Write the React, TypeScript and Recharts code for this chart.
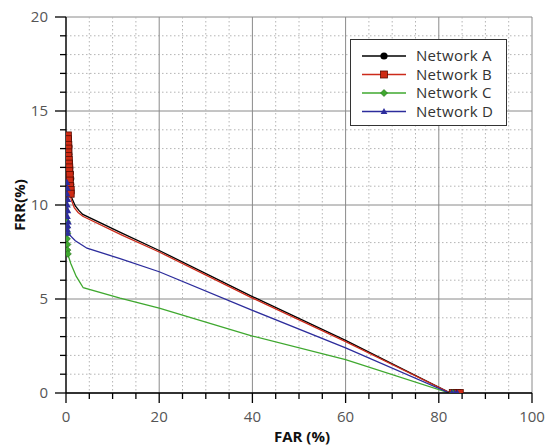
import React from 'react';
import { ComposedChart, Line, Scatter, XAxis, YAxis, CartesianGrid } from 'recharts';

// ---- data: [FAR %, FRR %] ----
const xTicks = [0, 5, 10, 15, 20, 25, 30, 35, 40, 45, 50, 55, 60, 65, 70, 75, 80, 85, 90, 95, 100];
const yTicks = [0, 1, 2, 3, 4, 5, 6, 7, 8, 9, 10, 11, 12, 13, 14, 15, 16, 17, 18, 19, 20];

const seriesNames = ['Network A', 'Network B', 'Network C', 'Network D'];

// measured operating points (drawn with markers)
const netAMarked: [number, number][] = [
  [0.5, 13.5], [0.6, 13.1], [0.6, 12.7], [0.7, 12.3], [0.8, 12.0], [0.9, 11.7], [1.0, 11.4],
  [1.0, 11.1], [1.0, 10.8], [1.0, 10.6],
];
const netACurve: [number, number][] = [
  [1.2, 10.4], [2.0, 9.95], [2.8, 9.7], [3.6, 9.5], [12, 8.5], [20, 7.58], [40, 5.13], [60, 2.8], [82.5, 0],
];
const netAEnd: [number, number][] = [[83.0, 0], [83.6, 0], [84.2, 0]];

const netBMarked: [number, number][] = [
  [0.4, 13.7], [0.4, 13.5], [0.5, 13.2], [0.5, 13.0], [0.5, 12.8], [0.5, 12.6], [0.6, 12.4],
  [0.6, 12.2], [0.7, 12.0], [0.7, 11.8], [0.8, 11.6], [0.8, 11.3], [0.9, 11.0], [1.0, 10.8], [1.0, 10.6],
];
const netBCurve: [number, number][] = [
  [1.1, 10.3], [1.8, 9.85], [2.6, 9.6], [3.6, 9.4], [12, 8.4], [20, 7.5], [40, 5.05], [60, 2.73], [82.5, 0],
];
const netBEnd: [number, number][] = [[83.0, 0], [83.5, 0], [84.0, 0], [84.5, 0]];

const netCMarked: [number, number][] = [
  [0.2, 9.1], [0.2, 8.8], [0.3, 8.5], [0.2, 8.2], [0.3, 7.9], [0.3, 7.6], [0.4, 7.4],
];
const netCCurve: [number, number][] = [
  [0.5, 7.3], [1.0, 6.9], [2.2, 6.2], [3.7, 5.6], [11.6, 5.05], [20, 4.52], [40, 3.03], [60, 1.78], [82.3, 0],
];
const netCEnd: [number, number][] = [[83.0, 0]];

const netDMarked: [number, number][] = [
  [0.2, 11.2], [0.3, 10.9], [0.2, 10.6], [0.4, 10.3], [0.3, 10.0], [0.4, 9.7], [0.3, 9.4],
  [0.5, 9.1], [0.4, 8.9], [0.3, 8.7], [0.4, 8.5],
];
const netDCurve: [number, number][] = [
  [0.6, 8.45], [2.0, 8.1], [4.5, 7.7], [11.6, 7.15], [20, 6.45], [40, 4.4], [60, 2.4], [82.3, 0],
];
const netDEnd: [number, number][] = [[82.8, 0], [83.4, 0], [84.0, 0]];

// ---- helpers ----
const toPts = (arr: [number, number][]) => arr.map(([far, frr]) => ({ far, frr }));

const COLORS = ['#000000', '#cc2a1a', '#3fa82f', '#2c2c9c'];
const FONT = "'Open Sans', 'Noto Sans', sans-serif";

const W = 552;
const H = 446;

const circleShape = (p: any) => <circle cx={p.cx} cy={p.cy} r={3.6} fill="#000" />;
const squareShape = (p: any) => (
  <rect x={p.cx - 3.5} y={p.cy - 3.5} width={7} height={7} fill="#cf2b14" stroke="#5a0c00" strokeWidth={0.8} />
);
const diamondShape = (p: any) => (
  <polygon
    points={`${p.cx},${p.cy - 3.5} ${p.cx + 3.5},${p.cy} ${p.cx},${p.cy + 3.5} ${p.cx - 3.5},${p.cy}`}
    fill="#3fa82f"
    stroke="#1e6a14"
    strokeWidth={0.6}
  />
);
const triangleShape = (p: any) => (
  <polygon
    points={`${p.cx},${p.cy - 3.6} ${p.cx + 3.4},${p.cy + 2.6} ${p.cx - 3.4},${p.cy + 2.6}`}
    fill="#2c2c9c"
  />
);
const shapes = [circleShape, squareShape, diamondShape, triangleShape];

const XTick = (props: any) => {
  const { x, y, payload } = props;
  const major = payload.value % 20 === 0;
  return (
    <g>
      <line x1={x} y1={y} x2={x} y2={y + (major ? 10 : 6)} stroke="#000" strokeWidth={1.3} />
      {major && (
        <text x={x} y={y + 29} textAnchor="middle" fontSize={15} fill="#555" fontFamily={FONT}>
          {payload.value}
        </text>
      )}
    </g>
  );
};

const YTick = (props: any) => {
  const { x, y, payload } = props;
  const major = payload.value % 5 === 0;
  return (
    <g>
      <line x1={x} y1={y} x2={x - (major ? 11 : 6)} y2={y} stroke="#000" strokeWidth={1.3} />
      {major && (
        <text x={x - 18} y={y + 5.3} textAnchor="end" fontSize={15} fill="#555" fontFamily={FONT}>
          {payload.value}
        </text>
      )}
    </g>
  );
};

const hLine = (p: any) => {
  const major = p.index % 5 === 0;
  return (
    <line
      key={p.key}
      x1={p.x1}
      y1={p.y1}
      x2={p.x2}
      y2={p.y2}
      stroke={major ? '#8a8a8a' : '#b4b4b4'}
      strokeWidth={1}
      strokeDasharray={major ? undefined : '1.5 2.5'}
    />
  );
};
const vLine = (p: any) => {
  const major = p.index % 4 === 0;
  return (
    <line
      key={p.key}
      x1={p.x1}
      y1={p.y1}
      x2={p.x2}
      y2={p.y2}
      stroke={major ? '#8a8a8a' : '#b4b4b4'}
      strokeWidth={1}
      strokeDasharray={major ? undefined : '1.5 2.5'}
    />
  );
};

const series = [
  { marked: netAMarked, curve: netACurve, end: netAEnd },
  { marked: netBMarked, curve: netBCurve, end: netBEnd },
  { marked: netCMarked, curve: netCCurve, end: netCEnd },
  { marked: netDMarked, curve: netDCurve, end: netDEnd },
];

const LegendBox = () => {
  const rowY = [16, 34.5, 53, 71.5];
  return (
    <div
      style={{
        position: 'absolute',
        left: 350,
        top: 39,
        width: 157,
        height: 87,
        boxSizing: 'border-box',
        border: '1.3px solid #333',
        background: '#fff',
      }}
    >
      <svg width={155} height={85} style={{ position: 'absolute', left: 0, top: 0 }}>
        {seriesNames.map((name, i) => (
          <g key={name}>
            <line x1={11} x2={55} y1={rowY[i]} y2={rowY[i]} stroke={COLORS[i]} strokeWidth={1.3} />
            {shapes[i]({ cx: 33, cy: rowY[i] })}
            <text x={65} y={rowY[i] + 5.3} fontSize={15} fill="#333" fontFamily={FONT} letterSpacing={0.3}>
              {name}
            </text>
          </g>
        ))}
      </svg>
    </div>
  );
};

export default function App() {
  return (
    <div style={{ position: 'absolute', left: 0, top: 0, width: W, height: H, background: '#fff' }}>
      <ComposedChart width={W} height={H} margin={{ top: 17, right: 20, bottom: 0, left: 0 }}>
        <CartesianGrid horizontal={hLine} vertical={vLine} />
        <XAxis
          type="number"
          dataKey="far"
          domain={[0, 100]}
          ticks={xTicks}
          interval={0}
          height={53}
          tickSize={0}
          tickMargin={0}
          tickLine={false}
          tick={<XTick />}
          axisLine={{ stroke: '#000', strokeWidth: 1.3 }}
          allowDataOverflow
          label={{
            value: 'FAR (%)',
            position: 'insideBottom',
            offset: 4,
            dx: 3,
            style: { fontFamily: FONT, fontSize: 15, fontWeight: 700, fill: '#111' },
          }}
        />
        <YAxis
          type="number"
          dataKey="frr"
          domain={[0, 20]}
          ticks={yTicks}
          interval={0}
          width={66}
          tickSize={0}
          tickMargin={0}
          tickLine={false}
          tick={<YTick />}
          axisLine={{ stroke: '#000', strokeWidth: 1.3 }}
          allowDataOverflow
          label={{
            value: 'FRR(%)',
            angle: -90,
            position: 'insideLeft',
            offset: 19.5,
            style: { fontFamily: FONT, fontSize: 15, fontWeight: 700, fill: '#111', textAnchor: 'middle' },
          }}
        />
        {series.map((s, i) => (
          <Line
            key={`line-${i}`}
            data={toPts([...s.marked, ...s.curve, ...s.end])}
            dataKey="frr"
            type="linear"
            stroke={COLORS[i]}
            strokeWidth={1.3}
            dot={false}
            activeDot={false}
            isAnimationActive={false}
          />
        ))}
        {series.map((s, i) => (
          <Scatter
            key={`sc-${i}`}
            data={toPts([...s.marked, ...s.end])}
            dataKey="frr"
            shape={shapes[i]}
            isAnimationActive={false}
          />
        ))}
      </ComposedChart>
      <LegendBox />
    </div>
  );
}
